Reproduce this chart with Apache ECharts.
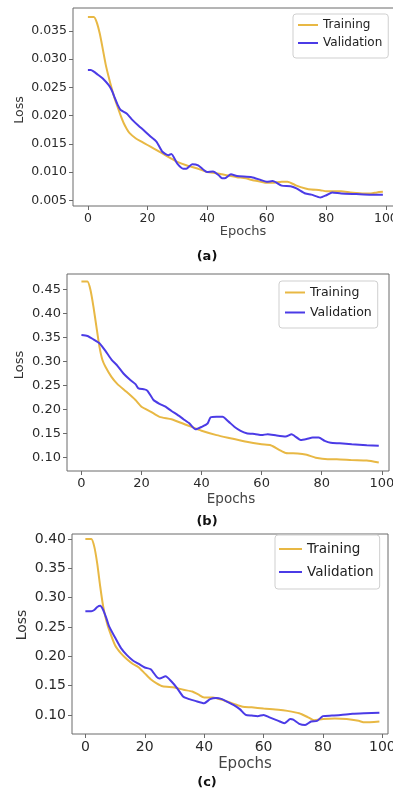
<!DOCTYPE html>
<html><head><meta charset="utf-8">
<script src="https://cdn.jsdelivr.net/npm/echarts@6/dist/echarts.min.js"></script>
<style>html,body{margin:0;padding:0;background:#fff;overflow:hidden}#c{width:393px;height:794px}</style>
</head><body><div id="c"></div>
<script>
// ---- data (epoch, loss) ----
const trainA = [[0,0.0375],[1,0.0375],[2,0.0375],[3,0.0365],[4,0.0345],[5,0.0318],[6,0.0290],[7,0.0268],[8,0.0248],[9,0.0230],[10,0.0215],[11,0.0200],[12,0.0187],[13,0.0177],[14,0.0169],[16,0.0160],[18,0.0154],[20,0.0148],[22,0.0142],[25,0.0133],[28,0.0124],[30,0.0118],[33,0.0112],[35,0.0109],[38,0.0104],[40,0.0100],[43,0.0098],[45,0.0096],[48,0.0093],[50,0.0091],[53,0.0089],[55,0.0086],[58,0.0083],[60,0.0081],[62,0.0081],[65,0.0083],[67,0.0083],[70,0.0076],[73,0.0071],[75,0.0069],[78,0.0068],[80,0.0066],[83,0.0066],[85,0.0066],[88,0.0064],[90,0.0063],[93,0.0062],[95,0.0062],[97,0.0064],[99,0.0065]];
const valA = [[0,0.0281],[1,0.0281],[2,0.0278],[3,0.0274],[5,0.0266],[7,0.0254],[8,0.0245],[9,0.0232],[10,0.0219],[11,0.0210],[13,0.0204],[15,0.0192],[17,0.0182],[19,0.0173],[21,0.0163],[23,0.0154],[25,0.0136],[27,0.0130],[28,0.0132],[30,0.0115],[32,0.0106],[33,0.0106],[35,0.0114],[37,0.0112],[40,0.0100],[42,0.0101],[44,0.0094],[45,0.0089],[46,0.0089],[48,0.0096],[50,0.0093],[55,0.0091],[58,0.0086],[60,0.0083],[62,0.0084],[65,0.0076],[68,0.0075],[70,0.0071],[73,0.0062],[75,0.0060],[78,0.0055],[80,0.0059],[82,0.0064],[85,0.0062],[90,0.0061],[95,0.0060],[99,0.0060]];
const trainB = [[0,0.466],[1,0.466],[2,0.466],[3,0.449],[4,0.414],[5,0.372],[6,0.331],[7,0.303],[8,0.289],[10,0.268],[12,0.253],[15,0.237],[18,0.220],[20,0.206],[23,0.196],[26,0.185],[30,0.180],[35,0.168],[40,0.156],[45,0.147],[50,0.140],[55,0.133],[60,0.128],[63,0.126],[66,0.116],[68,0.110],[72,0.109],[75,0.106],[78,0.100],[82,0.097],[85,0.097],[90,0.095],[95,0.094],[99,0.090]];
const valB = [[0,0.355],[2,0.353],[4,0.346],[6,0.338],[8,0.322],[10,0.304],[12,0.291],[14,0.275],[16,0.263],[18,0.253],[19,0.244],[21,0.242],[22,0.239],[24,0.220],[26,0.212],[28,0.206],[30,0.197],[32,0.189],[34,0.180],[36,0.171],[38,0.159],[40,0.164],[42,0.171],[43,0.184],[45,0.185],[47,0.185],[49,0.175],[51,0.164],[53,0.156],[55,0.151],[58,0.149],[60,0.147],[62,0.149],[65,0.146],[68,0.144],[70,0.149],[71,0.145],[73,0.137],[75,0.139],[77,0.142],[79,0.142],[81,0.135],[83,0.131],[86,0.130],[90,0.128],[95,0.126],[99,0.125]];
const trainC = [[0,0.400],[1,0.400],[2,0.400],[3,0.387],[4,0.358],[5,0.319],[6,0.285],[7,0.262],[8,0.245],[10,0.219],[12,0.205],[14,0.195],[16,0.187],[18,0.181],[20,0.171],[22,0.161],[24,0.154],[26,0.149],[30,0.147],[33,0.143],[36,0.140],[38,0.135],[40,0.130],[43,0.130],[46,0.126],[50,0.119],[53,0.114],[56,0.113],[60,0.111],[65,0.109],[68,0.107],[72,0.103],[75,0.096],[77,0.091],[80,0.093],[84,0.094],[88,0.093],[92,0.090],[94,0.0875],[99,0.089]];
const valC = [[0,0.277],[2,0.277],[3,0.279],[4,0.284],[5,0.286],[6,0.279],[7,0.266],[8,0.251],[10,0.232],[12,0.214],[14,0.202],[16,0.193],[18,0.187],[20,0.181],[22,0.178],[24,0.165],[25,0.162],[27,0.166],[29,0.157],[31,0.145],[33,0.131],[35,0.127],[37,0.124],[40,0.120],[42,0.127],[44,0.129],[46,0.127],[48,0.122],[50,0.117],[52,0.110],[54,0.100],[56,0.099],[58,0.098],[60,0.100],[62,0.096],[65,0.090],[67,0.086],[69,0.093],[70,0.092],[72,0.085],[74,0.083],[76,0.089],[78,0.090],[80,0.098],[83,0.099],[86,0.100],[90,0.102],[94,0.103],[99,0.104]];

const xTicks = [0, 20, 40, 60, 80, 100];
const yTicksA = [0.005, 0.010, 0.015, 0.020, 0.025, 0.030, 0.035];
const yTicksB = [0.10, 0.15, 0.20, 0.25, 0.30, 0.35, 0.40, 0.45];
const yTicksC = [0.10, 0.15, 0.20, 0.25, 0.30, 0.35, 0.40];
const seriesNames = ['Training', 'Validation'];
const panelLabels = ['(a)', '(b)', '(c)'];

// ---- style / layout ----
const FONT = 'DejaVu Sans';
const C_TRAIN = '#E8B844';
const C_VAL = '#4B3BE6';
const FRAME = '#6a6a6a';

const panels = [
  {grid:{left:73, top:8, width:323, height:198}, xMin:-5.0, xMax:103.4, yMin:0.00399, yMax:0.03908, yTicks:yTicksA, dec:3, fs:12.5,
   train:trainA, val:valA,
   legend:{left:293, top:14, width:96, fs:12, gap:6, iw:20, pad:[5,6,9,5]},
   loss:[20,110,12.5], epochs:[243,232,13], label:[207,257]},
  {grid:{left:67, top:274, width:322, height:197}, xMin:-4.8, xMax:102.4, yMin:0.0724, yMax:0.4818, yTicks:yTicksB, dec:2, fs:13,
   train:trainB, val:valB,
   legend:{left:279, top:281, width:102, fs:12.5, gap:7, iw:20, pad:[5,6,9,6]},
   loss:[20,365,13], epochs:[231,499,13.5], label:[207,522]},
  {grid:{left:72, top:534, width:316, height:200}, xMin:-4.5, xMax:101.9, yMin:0.0676, yMax:0.4085, yTicks:yTicksC, dec:2, fs:14,
   train:trainC, val:valC,
   legend:{left:275, top:535, width:108, fs:13.5, gap:9, iw:23, pad:[7,6,10,4]},
   loss:[22,625,14], epochs:[245,764,15], label:[207,783]}
];

const option = {
  animation:false,
  textStyle:{fontFamily:FONT},
  grid:[], xAxis:[], yAxis:[], series:[], legend:[], graphic:[]
};

panels.forEach((p, i) => {
  option.grid.push(Object.assign({show:true, borderColor:FRAME, borderWidth:1, backgroundColor:'transparent', outerBoundsMode:'none', containLabel:false}, p.grid));
  option.xAxis.push({
    type:'value', gridIndex:i, min:p.xMin, max:p.xMax, position:'bottom',
    axisLine:{show:false, onZero:false}, splitLine:{show:false},
    axisTick:{show:true, inside:false, length:4, lineStyle:{color:FRAME}, customValues:xTicks},
    axisLabel:{customValues:xTicks, color:'#2a2a2a', fontSize:p.fs, fontFamily:FONT, margin:6}
  });
  option.yAxis.push({
    type:'value', gridIndex:i, min:p.yMin, max:p.yMax, position:'left',
    axisLine:{show:false, onZero:false}, splitLine:{show:false},
    axisTick:{show:true, inside:false, length:4, lineStyle:{color:FRAME}, customValues:p.yTicks},
    axisLabel:{customValues:p.yTicks, color:'#2a2a2a', fontSize:p.fs, fontFamily:FONT, margin:6,
      formatter:(v)=>v.toFixed(p.dec)}
  });
  option.series.push(
    {name:seriesNames[0], type:'line', xAxisIndex:i, yAxisIndex:i, data:p.train, symbol:'none', smooth:0.2,
     lineStyle:{color:C_TRAIN, width:2}, itemStyle:{color:C_TRAIN}},
    {name:seriesNames[1], type:'line', xAxisIndex:i, yAxisIndex:i, data:p.val, symbol:'none', smooth:0.2,
     lineStyle:{color:C_VAL, width:2}, itemStyle:{color:C_VAL}}
  );
  const L = p.legend;
  option.legend.push({
    data:seriesNames, orient:'vertical', left:L.left, top:L.top, width:L.width,
    icon:'rect', itemWidth:L.iw, itemHeight:2, itemGap:L.gap, padding:L.pad,
    borderColor:'#cfcfcf', borderWidth:1, borderRadius:3, backgroundColor:'#fff',
    textStyle:{fontSize:L.fs, color:'#222', fontFamily:FONT}, selectedMode:false
  });
  option.graphic.push(
    {type:'text', x:p.loss[0], y:p.loss[1], rotation:Math.PI/2,
     style:{text:'Loss', fontSize:p.loss[2], fontFamily:FONT, fill:'#333', align:'center', verticalAlign:'middle'}},
    {type:'text', x:p.epochs[0], y:p.epochs[1],
     style:{text:'Epochs', fontSize:p.epochs[2], fontFamily:FONT, fill:'#444', align:'center', verticalAlign:'middle'}},
    {type:'text', x:p.label[0], y:p.label[1],
     style:{text:panelLabels[i], fontSize:13, fontWeight:'bold', fontFamily:FONT, fill:'#111', align:'center', verticalAlign:'middle'}}
  );
});

const chart = echarts.init(document.getElementById('c'), null, {renderer:'canvas'});
chart.setOption(option);
</script>
</body></html>
